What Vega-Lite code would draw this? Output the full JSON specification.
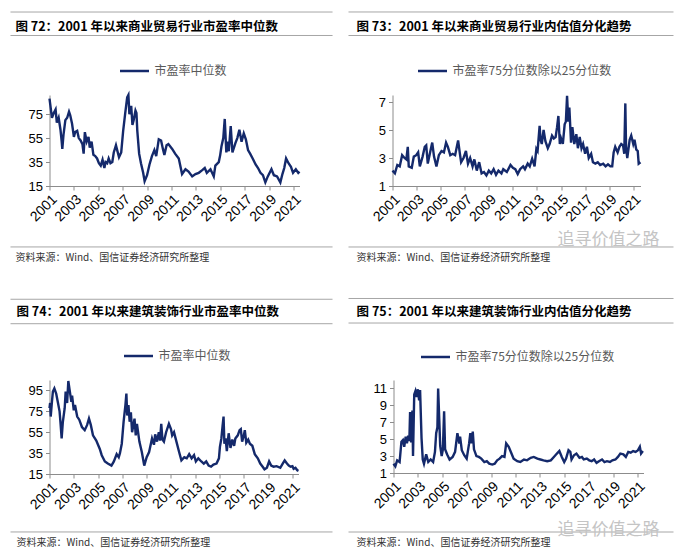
{
"$schema": "https://vega.github.io/schema/vega-lite/v6.json",
"padding": {"left": 9.5, "top": 11, "right": 0, "bottom": 0},
"background": "white",
"datasets": {
"a": [{"t":2001.0,"v":88},{"t":2001.1,"v":80},{"t":2001.2,"v":72},{"t":2001.35,"v":76},{"t":2001.5,"v":79},{"t":2001.6,"v":68},{"t":2001.75,"v":72},{"t":2001.9,"v":62},{"t":2002.0,"v":52},{"t":2002.05,"v":46},{"t":2002.15,"v":58},{"t":2002.3,"v":70},{"t":2002.45,"v":72},{"t":2002.6,"v":77},{"t":2002.7,"v":74},{"t":2002.85,"v":67},{"t":2003.0,"v":56},{"t":2003.1,"v":60},{"t":2003.27,"v":61},{"t":2003.4,"v":55},{"t":2003.55,"v":53},{"t":2003.7,"v":50},{"t":2003.8,"v":42},{"t":2003.9,"v":60},{"t":2004.05,"v":52},{"t":2004.2,"v":56},{"t":2004.3,"v":47},{"t":2004.45,"v":52},{"t":2004.6,"v":41},{"t":2004.75,"v":40},{"t":2004.9,"v":38},{"t":2005.05,"v":34},{"t":2005.2,"v":32},{"t":2005.35,"v":37},{"t":2005.5,"v":30},{"t":2005.6,"v":35},{"t":2005.73,"v":34},{"t":2005.85,"v":38},{"t":2006.0,"v":34},{"t":2006.15,"v":35},{"t":2006.27,"v":43},{"t":2006.45,"v":49},{"t":2006.55,"v":45},{"t":2006.7,"v":39},{"t":2006.88,"v":43},{"t":2007.04,"v":61},{"t":2007.2,"v":75},{"t":2007.37,"v":89},{"t":2007.47,"v":91},{"t":2007.55,"v":75},{"t":2007.7,"v":82},{"t":2007.8,"v":66},{"t":2007.9,"v":70},{"t":2008.05,"v":78},{"t":2008.13,"v":76},{"t":2008.2,"v":61},{"t":2008.35,"v":42},{"t":2008.5,"v":34},{"t":2008.68,"v":26},{"t":2008.8,"v":19},{"t":2009.0,"v":24},{"t":2009.2,"v":33},{"t":2009.4,"v":40},{"t":2009.6,"v":45},{"t":2009.75,"v":40},{"t":2009.96,"v":54},{"t":2010.15,"v":53},{"t":2010.3,"v":46},{"t":2010.42,"v":41},{"t":2010.6,"v":49},{"t":2010.75,"v":50},{"t":2011.06,"v":46},{"t":2011.3,"v":42},{"t":2011.6,"v":38},{"t":2011.87,"v":25},{"t":2012.15,"v":29},{"t":2012.4,"v":27},{"t":2012.7,"v":23},{"t":2012.97,"v":25},{"t":2013.24,"v":26},{"t":2013.5,"v":28},{"t":2013.73,"v":30},{"t":2013.9,"v":26},{"t":2014.2,"v":29},{"t":2014.47,"v":23},{"t":2014.6,"v":32},{"t":2014.88,"v":35},{"t":2015.0,"v":41},{"t":2015.1,"v":48},{"t":2015.25,"v":55},{"t":2015.37,"v":71},{"t":2015.5,"v":43},{"t":2015.6,"v":52},{"t":2015.7,"v":44},{"t":2015.86,"v":65},{"t":2016.0,"v":43},{"t":2016.25,"v":51},{"t":2016.4,"v":55},{"t":2016.57,"v":62},{"t":2016.75,"v":52},{"t":2016.93,"v":59},{"t":2017.1,"v":54},{"t":2017.28,"v":45},{"t":2017.45,"v":42},{"t":2017.66,"v":38},{"t":2017.9,"v":33},{"t":2018.1,"v":30},{"t":2018.3,"v":26},{"t":2018.5,"v":24},{"t":2018.7,"v":18},{"t":2018.9,"v":23},{"t":2019.2,"v":29},{"t":2019.4,"v":24},{"t":2019.66,"v":23},{"t":2019.93,"v":18},{"t":2020.1,"v":25},{"t":2020.25,"v":30},{"t":2020.4,"v":38},{"t":2020.6,"v":34},{"t":2020.8,"v":31},{"t":2020.97,"v":26},{"t":2021.2,"v":29},{"t":2021.4,"v":26},{"t":2021.5,"v":27}],
"b": [{"t":2001.0,"v":2.1},{"t":2001.1,"v":2.0},{"t":2001.2,"v":1.9},{"t":2001.4,"v":2.5},{"t":2001.6,"v":2.4},{"t":2001.8,"v":3.2},{"t":2002.0,"v":3.0},{"t":2002.15,"v":2.9},{"t":2002.27,"v":3.8},{"t":2002.35,"v":2.4},{"t":2002.6,"v":2.3},{"t":2002.77,"v":3.1},{"t":2002.97,"v":3.2},{"t":2003.13,"v":3.4},{"t":2003.27,"v":2.4},{"t":2003.5,"v":3.1},{"t":2003.68,"v":3.8},{"t":2003.8,"v":3.9},{"t":2003.93,"v":2.6},{"t":2004.1,"v":3.3},{"t":2004.3,"v":4.1},{"t":2004.45,"v":3.1},{"t":2004.65,"v":2.4},{"t":2004.85,"v":3.2},{"t":2005.07,"v":3.5},{"t":2005.27,"v":3.4},{"t":2005.45,"v":4.1},{"t":2005.6,"v":3.8},{"t":2005.8,"v":3.2},{"t":2006.0,"v":3.3},{"t":2006.2,"v":3.2},{"t":2006.45,"v":4.25},{"t":2006.6,"v":3.3},{"t":2006.7,"v":2.7},{"t":2006.9,"v":3.0},{"t":2007.1,"v":3.5},{"t":2007.27,"v":2.6},{"t":2007.45,"v":3.0},{"t":2007.65,"v":2.4},{"t":2007.8,"v":2.9},{"t":2008.0,"v":2.1},{"t":2008.2,"v":2.7},{"t":2008.4,"v":1.9},{"t":2008.6,"v":2.0},{"t":2008.8,"v":1.75},{"t":2009.0,"v":2.1},{"t":2009.2,"v":1.9},{"t":2009.4,"v":2.2},{"t":2009.6,"v":1.8},{"t":2009.8,"v":2.1},{"t":2010.05,"v":1.9},{"t":2010.2,"v":2.2},{"t":2010.5,"v":2.0},{"t":2010.8,"v":2.5},{"t":2011.0,"v":2.3},{"t":2011.2,"v":2.2},{"t":2011.4,"v":1.85},{"t":2011.6,"v":2.2},{"t":2011.85,"v":2.4},{"t":2012.0,"v":2.2},{"t":2012.23,"v":2.6},{"t":2012.4,"v":2.4},{"t":2012.6,"v":2.95},{"t":2012.8,"v":2.4},{"t":2012.95,"v":3.65},{"t":2013.05,"v":3.5},{"t":2013.22,"v":5.3},{"t":2013.3,"v":4.3},{"t":2013.4,"v":4.0},{"t":2013.55,"v":5.0},{"t":2013.7,"v":4.2},{"t":2013.9,"v":3.7},{"t":2014.05,"v":4.0},{"t":2014.25,"v":4.6},{"t":2014.4,"v":4.4},{"t":2014.55,"v":4.5},{"t":2014.67,"v":5.2},{"t":2014.78,"v":6.0},{"t":2014.9,"v":4.0},{"t":2015.0,"v":4.4},{"t":2015.15,"v":4.0},{"t":2015.3,"v":5.4},{"t":2015.4,"v":5.6},{"t":2015.5,"v":7.45},{"t":2015.6,"v":5.6},{"t":2015.69,"v":6.6},{"t":2015.83,"v":4.1},{"t":2015.94,"v":5.2},{"t":2016.1,"v":4.0},{"t":2016.27,"v":4.7},{"t":2016.4,"v":3.7},{"t":2016.55,"v":4.5},{"t":2016.7,"v":3.7},{"t":2016.83,"v":4.0},{"t":2017.0,"v":3.3},{"t":2017.15,"v":3.8},{"t":2017.3,"v":3.0},{"t":2017.5,"v":3.3},{"t":2017.65,"v":2.7},{"t":2017.85,"v":2.6},{"t":2018.05,"v":2.7},{"t":2018.25,"v":2.5},{"t":2018.5,"v":2.6},{"t":2018.7,"v":2.4},{"t":2018.9,"v":2.55},{"t":2019.1,"v":2.4},{"t":2019.25,"v":2.4},{"t":2019.37,"v":3.4},{"t":2019.5,"v":3.8},{"t":2019.7,"v":3.4},{"t":2019.85,"v":3.8},{"t":2020.0,"v":4.0},{"t":2020.15,"v":3.9},{"t":2020.25,"v":3.3},{"t":2020.34,"v":6.9},{"t":2020.4,"v":3.8},{"t":2020.5,"v":3.0},{"t":2020.7,"v":4.3},{"t":2020.83,"v":4.6},{"t":2021.0,"v":4.0},{"t":2021.1,"v":4.3},{"t":2021.25,"v":3.6},{"t":2021.37,"v":3.5},{"t":2021.45,"v":2.6},{"t":2021.6,"v":2.7}],
"c": [{"t":2001.0,"v":78},{"t":2001.05,"v":83},{"t":2001.1,"v":70},{"t":2001.2,"v":84},{"t":2001.28,"v":94},{"t":2001.4,"v":97},{"t":2001.55,"v":92},{"t":2001.7,"v":83},{"t":2001.83,"v":75},{"t":2001.9,"v":65},{"t":2002.0,"v":49},{"t":2002.1,"v":65},{"t":2002.25,"v":78},{"t":2002.33,"v":94},{"t":2002.45,"v":83},{"t":2002.55,"v":104},{"t":2002.65,"v":96},{"t":2002.8,"v":84},{"t":2002.86,"v":90},{"t":2003.0,"v":76},{"t":2003.1,"v":81},{"t":2003.28,"v":70},{"t":2003.45,"v":67},{"t":2003.67,"v":60},{"t":2003.9,"v":57},{"t":2004.1,"v":62},{"t":2004.25,"v":68},{"t":2004.4,"v":62},{"t":2004.58,"v":52},{"t":2004.85,"v":47},{"t":2005.14,"v":39},{"t":2005.3,"v":33},{"t":2005.56,"v":27},{"t":2005.8,"v":25},{"t":2006.1,"v":23},{"t":2006.3,"v":27},{"t":2006.53,"v":34},{"t":2006.7,"v":31},{"t":2006.8,"v":35},{"t":2006.95,"v":44},{"t":2007.1,"v":65},{"t":2007.25,"v":81},{"t":2007.33,"v":92},{"t":2007.4,"v":71},{"t":2007.5,"v":81},{"t":2007.6,"v":65},{"t":2007.7,"v":74},{"t":2007.8,"v":55},{"t":2008.0,"v":68},{"t":2008.1,"v":52},{"t":2008.2,"v":63},{"t":2008.4,"v":46},{"t":2008.6,"v":36},{"t":2008.8,"v":23},{"t":2009.0,"v":31},{"t":2009.2,"v":36},{"t":2009.44,"v":49},{"t":2009.6,"v":43},{"t":2009.7,"v":53},{"t":2009.85,"v":46},{"t":2010.0,"v":55},{"t":2010.1,"v":47},{"t":2010.2,"v":63},{"t":2010.3,"v":48},{"t":2010.42,"v":46},{"t":2010.6,"v":55},{"t":2010.83,"v":63},{"t":2011.0,"v":58},{"t":2011.1,"v":52},{"t":2011.25,"v":55},{"t":2011.45,"v":46},{"t":2011.67,"v":36},{"t":2011.86,"v":28},{"t":2012.1,"v":31},{"t":2012.3,"v":30},{"t":2012.5,"v":34},{"t":2012.7,"v":30},{"t":2012.9,"v":33},{"t":2013.05,"v":27},{"t":2013.25,"v":30},{"t":2013.5,"v":27},{"t":2013.7,"v":25},{"t":2013.9,"v":27},{"t":2014.1,"v":23},{"t":2014.3,"v":22},{"t":2014.5,"v":24},{"t":2014.75,"v":25},{"t":2014.95,"v":30},{"t":2015.03,"v":41},{"t":2015.15,"v":49},{"t":2015.25,"v":61},{"t":2015.33,"v":70},{"t":2015.4,"v":44},{"t":2015.5,"v":49},{"t":2015.6,"v":37},{"t":2015.75,"v":54},{"t":2015.9,"v":40},{"t":2016.05,"v":48},{"t":2016.2,"v":42},{"t":2016.3,"v":49},{"t":2016.5,"v":52},{"t":2016.65,"v":57},{"t":2016.75,"v":58},{"t":2016.86,"v":46},{"t":2017.0,"v":52},{"t":2017.08,"v":57},{"t":2017.2,"v":45},{"t":2017.36,"v":48},{"t":2017.5,"v":44},{"t":2017.7,"v":42},{"t":2017.9,"v":34},{"t":2018.15,"v":30},{"t":2018.35,"v":25},{"t":2018.55,"v":22},{"t":2018.7,"v":19.5},{"t":2018.9,"v":21},{"t":2019.08,"v":27},{"t":2019.25,"v":23},{"t":2019.45,"v":22},{"t":2019.7,"v":22.5},{"t":2020.0,"v":21},{"t":2020.2,"v":25},{"t":2020.36,"v":28},{"t":2020.55,"v":25},{"t":2020.7,"v":23},{"t":2020.85,"v":22},{"t":2021.0,"v":22.5},{"t":2021.1,"v":20},{"t":2021.25,"v":21},{"t":2021.4,"v":18.6},{"t":2021.5,"v":18}],
"d": [{"t":2001.0,"v":2.1},{"t":2001.15,"v":1.8},{"t":2001.3,"v":2.5},{"t":2001.5,"v":2.3},{"t":2001.65,"v":4.7},{"t":2001.77,"v":4.9},{"t":2001.88,"v":4.1},{"t":2002.0,"v":5.3},{"t":2002.1,"v":4.5},{"t":2002.2,"v":5.4},{"t":2002.3,"v":4.8},{"t":2002.36,"v":8.2},{"t":2002.45,"v":4.6},{"t":2002.55,"v":8.4},{"t":2002.6,"v":3.0},{"t":2002.7,"v":10.3},{"t":2002.8,"v":10.7},{"t":2002.9,"v":10.0},{"t":2003.0,"v":10.9},{"t":2003.1,"v":9.6},{"t":2003.18,"v":10.8},{"t":2003.3,"v":5.1},{"t":2003.4,"v":2.6},{"t":2003.5,"v":2.1},{"t":2003.68,"v":3.2},{"t":2003.85,"v":2.3},{"t":2004.05,"v":2.6},{"t":2004.25,"v":2.3},{"t":2004.4,"v":3.5},{"t":2004.5,"v":5.7},{"t":2004.6,"v":6.4},{"t":2004.66,"v":11.0},{"t":2004.75,"v":7.4},{"t":2004.83,"v":4.2},{"t":2004.95,"v":3.0},{"t":2005.05,"v":3.8},{"t":2005.15,"v":8.3},{"t":2005.23,"v":3.8},{"t":2005.4,"v":3.2},{"t":2005.6,"v":2.6},{"t":2005.85,"v":2.9},{"t":2006.05,"v":3.5},{"t":2006.24,"v":5.7},{"t":2006.4,"v":4.5},{"t":2006.46,"v":5.3},{"t":2006.6,"v":3.7},{"t":2006.8,"v":3.1},{"t":2007.0,"v":2.7},{"t":2007.2,"v":4.5},{"t":2007.3,"v":5.7},{"t":2007.4,"v":4.5},{"t":2007.5,"v":5.9},{"t":2007.6,"v":3.8},{"t":2007.8,"v":3.0},{"t":2008.0,"v":2.9},{"t":2008.2,"v":2.7},{"t":2008.45,"v":2.3},{"t":2008.65,"v":2.4},{"t":2008.85,"v":2.1},{"t":2009.1,"v":2.0},{"t":2009.3,"v":2.1},{"t":2009.5,"v":2.5},{"t":2009.7,"v":2.7},{"t":2009.9,"v":3.0},{"t":2010.1,"v":2.9},{"t":2010.24,"v":4.5},{"t":2010.45,"v":4.1},{"t":2010.65,"v":3.4},{"t":2010.85,"v":2.7},{"t":2011.15,"v":2.4},{"t":2011.4,"v":2.3},{"t":2011.7,"v":2.6},{"t":2011.95,"v":2.5},{"t":2012.25,"v":2.8},{"t":2012.5,"v":2.9},{"t":2012.8,"v":2.7},{"t":2013.05,"v":2.6},{"t":2013.3,"v":2.5},{"t":2013.6,"v":2.4},{"t":2013.9,"v":2.5},{"t":2014.15,"v":2.9},{"t":2014.4,"v":3.3},{"t":2014.6,"v":3.6},{"t":2014.8,"v":2.9},{"t":2015.0,"v":2.3},{"t":2015.15,"v":2.7},{"t":2015.35,"v":3.7},{"t":2015.5,"v":3.5},{"t":2015.6,"v":2.6},{"t":2015.8,"v":3.1},{"t":2016.0,"v":3.3},{"t":2016.25,"v":2.8},{"t":2016.45,"v":2.9},{"t":2016.6,"v":2.6},{"t":2016.85,"v":2.7},{"t":2017.05,"v":2.5},{"t":2017.25,"v":2.4},{"t":2017.45,"v":2.6},{"t":2017.65,"v":2.2},{"t":2017.85,"v":2.4},{"t":2018.1,"v":2.6},{"t":2018.3,"v":2.3},{"t":2018.5,"v":2.4},{"t":2018.75,"v":2.3},{"t":2018.95,"v":2.5},{"t":2019.2,"v":2.6},{"t":2019.4,"v":2.9},{"t":2019.6,"v":3.3},{"t":2019.85,"v":3.2},{"t":2020.05,"v":2.9},{"t":2020.25,"v":3.5},{"t":2020.45,"v":3.4},{"t":2020.65,"v":3.6},{"t":2020.85,"v":3.5},{"t":2021.05,"v":3.7},{"t":2021.2,"v":4.1},{"t":2021.3,"v":3.3},{"t":2021.45,"v":3.6}]
},
"spacing": 34,
"resolve": {"scale": {"color": "independent"}},
"vconcat": [
{"hconcat": [
{"width": 250, "height": 91,
 "layer": [
  {"data": {"name": "a"}, "mark": {"type": "line", "strokeWidth": 2.4},
   "encoding": {
    "x": {"field": "t", "type": "quantitative", "scale": {"domain": [2001, 2021.5], "nice": false, "zero": false}, "axis": {"values": [2001,2003,2005,2007,2009,2011,2013,2015,2017,2019,2021], "tickCount": 50, "format": "d", "title": null, "labelOverlap": false}},
    "y": {"field": "v", "type": "quantitative", "scale": {"domain": [15, 91], "nice": false, "zero": false}, "axis": {"values": [15,35,55,75], "tickCount": 50, "format": "d", "title": null, "labelOverlap": false}},
    "color": {"datum": "市盈率中位数", "scale": {"range": ["#14296b"]}, "legend": {"orient": "none", "legendX": 69, "legendY": -40}}
   }},
  {"data": {"values": [{}]}, "mark": {"type": "rule", "color": "#a6a6a6", "strokeWidth": 1}, "encoding": {"x": {"datum": 1997.8}, "x2": {"datum": 2024.21}, "y": {"datum": 160.3}}},
  {"data": {"values": [{}]}, "mark": {"type": "rule", "color": "#a6a6a6", "strokeWidth": 1}, "encoding": {"x": {"datum": 1997.8}, "x2": {"datum": 2024.21}, "y": {"datum": 140.7}}},
  {"data": {"values": [{}]}, "mark": {"type": "rule", "color": "#a6a6a6", "strokeWidth": 1}, "encoding": {"x": {"datum": 1997.8}, "x2": {"datum": 2024.21}, "y": {"datum": -35.9}}},
  {"data": {"values": [{}]}, "mark": {"type": "text", "text": "图 72：2001 年以来商业贸易行业市盈率中位数", "align": "left", "baseline": "middle", "font": "Noto Sans CJK SC", "fontSize": 12.5, "fontWeight": "bold", "color": "#000000"}, "encoding": {"x": {"datum": 1998.21}, "y": {"datum": 147.5}}},
  {"data": {"values": [{}]}, "mark": {"type": "text", "text": "资料来源：Wind、国信证券经济研究所整理", "align": "left", "baseline": "middle", "font": "Noto Sans CJK SC", "fontSize": 10, "color": "#333333"}, "encoding": {"x": {"datum": 1998.21}, "y": {"datum": -45.1}}}
 ]},
{"width": 248, "height": 91,
 "layer": [
  {"data": {"name": "b"}, "mark": {"type": "line", "strokeWidth": 2.4},
   "encoding": {
    "x": {"field": "t", "type": "quantitative", "scale": {"domain": [2001, 2021.6], "nice": false, "zero": false}, "axis": {"values": [2001,2003,2005,2007,2009,2011,2013,2015,2017,2019,2021], "tickCount": 50, "format": "d", "title": null, "labelOverlap": false}},
    "y": {"field": "v", "type": "quantitative", "scale": {"domain": [1, 7.5], "nice": false, "zero": false}, "axis": {"values": [1,3,5,7], "tickCount": 50, "format": "d", "title": null, "labelOverlap": false}},
    "color": {"datum": "市盈率75分位数除以25分位数", "scale": {"range": ["#14296b"]}, "legend": {"orient": "none", "legendX": 24, "legendY": -40}}
   }},
  {"data": {"values": [{}]}, "mark": {"type": "rule", "color": "#a6a6a6", "strokeWidth": 1}, "encoding": {"x": {"datum": 1997.345}, "x2": {"datum": 2024.34}, "y": {"datum": 13.43}}},
  {"data": {"values": [{}]}, "mark": {"type": "rule", "color": "#a6a6a6", "strokeWidth": 1}, "encoding": {"x": {"datum": 1997.345}, "x2": {"datum": 2024.34}, "y": {"datum": 11.75}}},
  {"data": {"values": [{}]}, "mark": {"type": "rule", "color": "#a6a6a6", "strokeWidth": 1}, "encoding": {"x": {"datum": 1997.345}, "x2": {"datum": 2024.34}, "y": {"datum": -3.357}}},
  {"data": {"values": [{}]}, "mark": {"type": "text", "text": "图 73：2001 年以来商业贸易行业内估值分化趋势", "align": "left", "baseline": "middle", "font": "Noto Sans CJK SC", "fontSize": 12.5, "fontWeight": "bold", "color": "#000000"}, "encoding": {"x": {"datum": 1998.01}, "y": {"datum": 12.35}}},
  {"data": {"values": [{}]}, "mark": {"type": "text", "text": "资料来源：Wind、国信证券经济研究所整理", "align": "left", "baseline": "middle", "font": "Noto Sans CJK SC", "fontSize": 10, "color": "#333333"}, "encoding": {"x": {"datum": 1998.01}, "y": {"datum": -4.14}}},
  {"data": {"values": [{}]}, "mark": {"type": "text", "text": "追寻价值之路", "align": "left", "baseline": "middle", "font": "Noto Sans CJK SC", "fontSize": 17, "color": "#c4c4c4"}, "encoding": {"x": {"datum": 2014.71}, "y": {"datum": -2.857}}}
 ]}
], "spacing": 14, "resolve": {"scale": {"color": "independent"}}},
{"hconcat": [
{"width": 249, "height": 94,
 "layer": [
  {"data": {"name": "c"}, "mark": {"type": "line", "strokeWidth": 2.4},
   "encoding": {
    "x": {"field": "t", "type": "quantitative", "scale": {"domain": [2001, 2021.5], "nice": false, "zero": false}, "axis": {"values": [2001,2003,2005,2007,2009,2011,2013,2015,2017,2019,2021], "tickCount": 50, "format": "d", "title": null, "labelOverlap": false}},
    "y": {"field": "v", "type": "quantitative", "scale": {"domain": [15, 105], "nice": false, "zero": false}, "axis": {"values": [15,35,55,75,95], "tickCount": 50, "format": "d", "title": null, "labelOverlap": false}},
    "color": {"datum": "市盈率中位数", "scale": {"range": ["#14296b"]}, "legend": {"orient": "none", "legendX": 73, "legendY": -40}}
   }},
  {"data": {"values": [{}]}, "mark": {"type": "rule", "color": "#a6a6a6", "strokeWidth": 1}, "encoding": {"x": {"datum": 1997.79}, "x2": {"datum": 2024.3}, "y": {"datum": 182.3}}},
  {"data": {"values": [{}]}, "mark": {"type": "rule", "color": "#a6a6a6", "strokeWidth": 1}, "encoding": {"x": {"datum": 1997.79}, "x2": {"datum": 2024.3}, "y": {"datum": 158.9}}},
  {"data": {"values": [{}]}, "mark": {"type": "rule", "color": "#a6a6a6", "strokeWidth": 1}, "encoding": {"x": {"datum": 1997.79}, "x2": {"datum": 2024.3}, "y": {"datum": -40.5}}},
  {"data": {"values": [{}]}, "mark": {"type": "text", "text": "图 74：2001 年以来建筑装饰行业市盈率中位数", "align": "left", "baseline": "middle", "font": "Noto Sans CJK SC", "fontSize": 12.5, "fontWeight": "bold", "color": "#000000"}, "encoding": {"x": {"datum": 1998.28}, "y": {"datum": 170.1}}},
  {"data": {"values": [{}]}, "mark": {"type": "text", "text": "资料来源：Wind、国信证券经济研究所整理", "align": "left", "baseline": "middle", "font": "Noto Sans CJK SC", "fontSize": 10, "color": "#333333"}, "encoding": {"x": {"datum": 1998.28}, "y": {"datum": -51.1}}}
 ]},
{"width": 250, "height": 93,
 "layer": [
  {"data": {"name": "d"}, "mark": {"type": "line", "strokeWidth": 2.4},
   "encoding": {
    "x": {"field": "t", "type": "quantitative", "scale": {"domain": [2001, 2021.5], "nice": false, "zero": false}, "axis": {"values": [2001,2003,2005,2007,2009,2011,2013,2015,2017,2019,2021], "tickCount": 50, "format": "d", "title": null, "labelOverlap": false}},
    "y": {"field": "v", "type": "quantitative", "scale": {"domain": [1, 12], "nice": false, "zero": false}, "axis": {"values": [1,3,5,7,9,11], "tickCount": 50, "format": "d", "title": null, "labelOverlap": false}},
    "color": {"datum": "市盈率75分位数除以25分位数", "scale": {"range": ["#14296b"]}, "legend": {"orient": "none", "legendX": 26, "legendY": -39}}
   }},
  {"data": {"values": [{}]}, "mark": {"type": "rule", "color": "#a6a6a6", "strokeWidth": 1}, "encoding": {"x": {"datum": 1997.31}, "x2": {"datum": 2023.96}, "y": {"datum": 21.64}}},
  {"data": {"values": [{}]}, "mark": {"type": "rule", "color": "#a6a6a6", "strokeWidth": 1}, "encoding": {"x": {"datum": 1997.31}, "x2": {"datum": 2023.96}, "y": {"datum": 18.74}}},
  {"data": {"values": [{}]}, "mark": {"type": "rule", "color": "#a6a6a6", "strokeWidth": 1}, "encoding": {"x": {"datum": 1997.31}, "x2": {"datum": 2023.96}, "y": {"datum": -5.98}}},
  {"data": {"values": [{}]}, "mark": {"type": "text", "text": "图 75：2001 年以来建筑装饰行业内估值分化趋势", "align": "left", "baseline": "middle", "font": "Noto Sans CJK SC", "fontSize": 12.5, "fontWeight": "bold", "color": "#000000"}, "encoding": {"x": {"datum": 1997.97}, "y": {"datum": 20.04}}},
  {"data": {"values": [{}]}, "mark": {"type": "text", "text": "资料来源：Wind、国信证券经济研究所整理", "align": "left", "baseline": "middle", "font": "Noto Sans CJK SC", "fontSize": 10, "color": "#333333"}, "encoding": {"x": {"datum": 1997.97}, "y": {"datum": -7.28}}},
  {"data": {"values": [{}]}, "mark": {"type": "text", "text": "追寻价值之路", "align": "left", "baseline": "middle", "font": "Noto Sans CJK SC", "fontSize": 17, "color": "#c4c4c4"}, "encoding": {"x": {"datum": 2014.45}, "y": {"datum": -5.74}}}
 ]}
], "spacing": 14, "resolve": {"scale": {"color": "independent"}}}
],
"config": {
 "view": {"stroke": null},
 "axis": {"grid": false, "labelFont": "Liberation Sans", "labelColor": "#000000", "domainColor": "#8c8c8c", "tickColor": "#8c8c8c", "tickSize": 4, "labelFlush": false},
 "axisX": {"labelAngle": -45, "labelPadding": 2, "labelFontSize": 14},
 "axisY": {"labelPadding": 3, "labelFontSize": 13},
 "legend": {"title": null, "symbolType": "stroke", "symbolSize": 841, "symbolStrokeWidth": 2.5, "labelFont": "Noto Sans CJK SC", "labelFontSize": 12, "labelColor": "#595959", "labelOffset": 4, "padding": 0}
}
}
